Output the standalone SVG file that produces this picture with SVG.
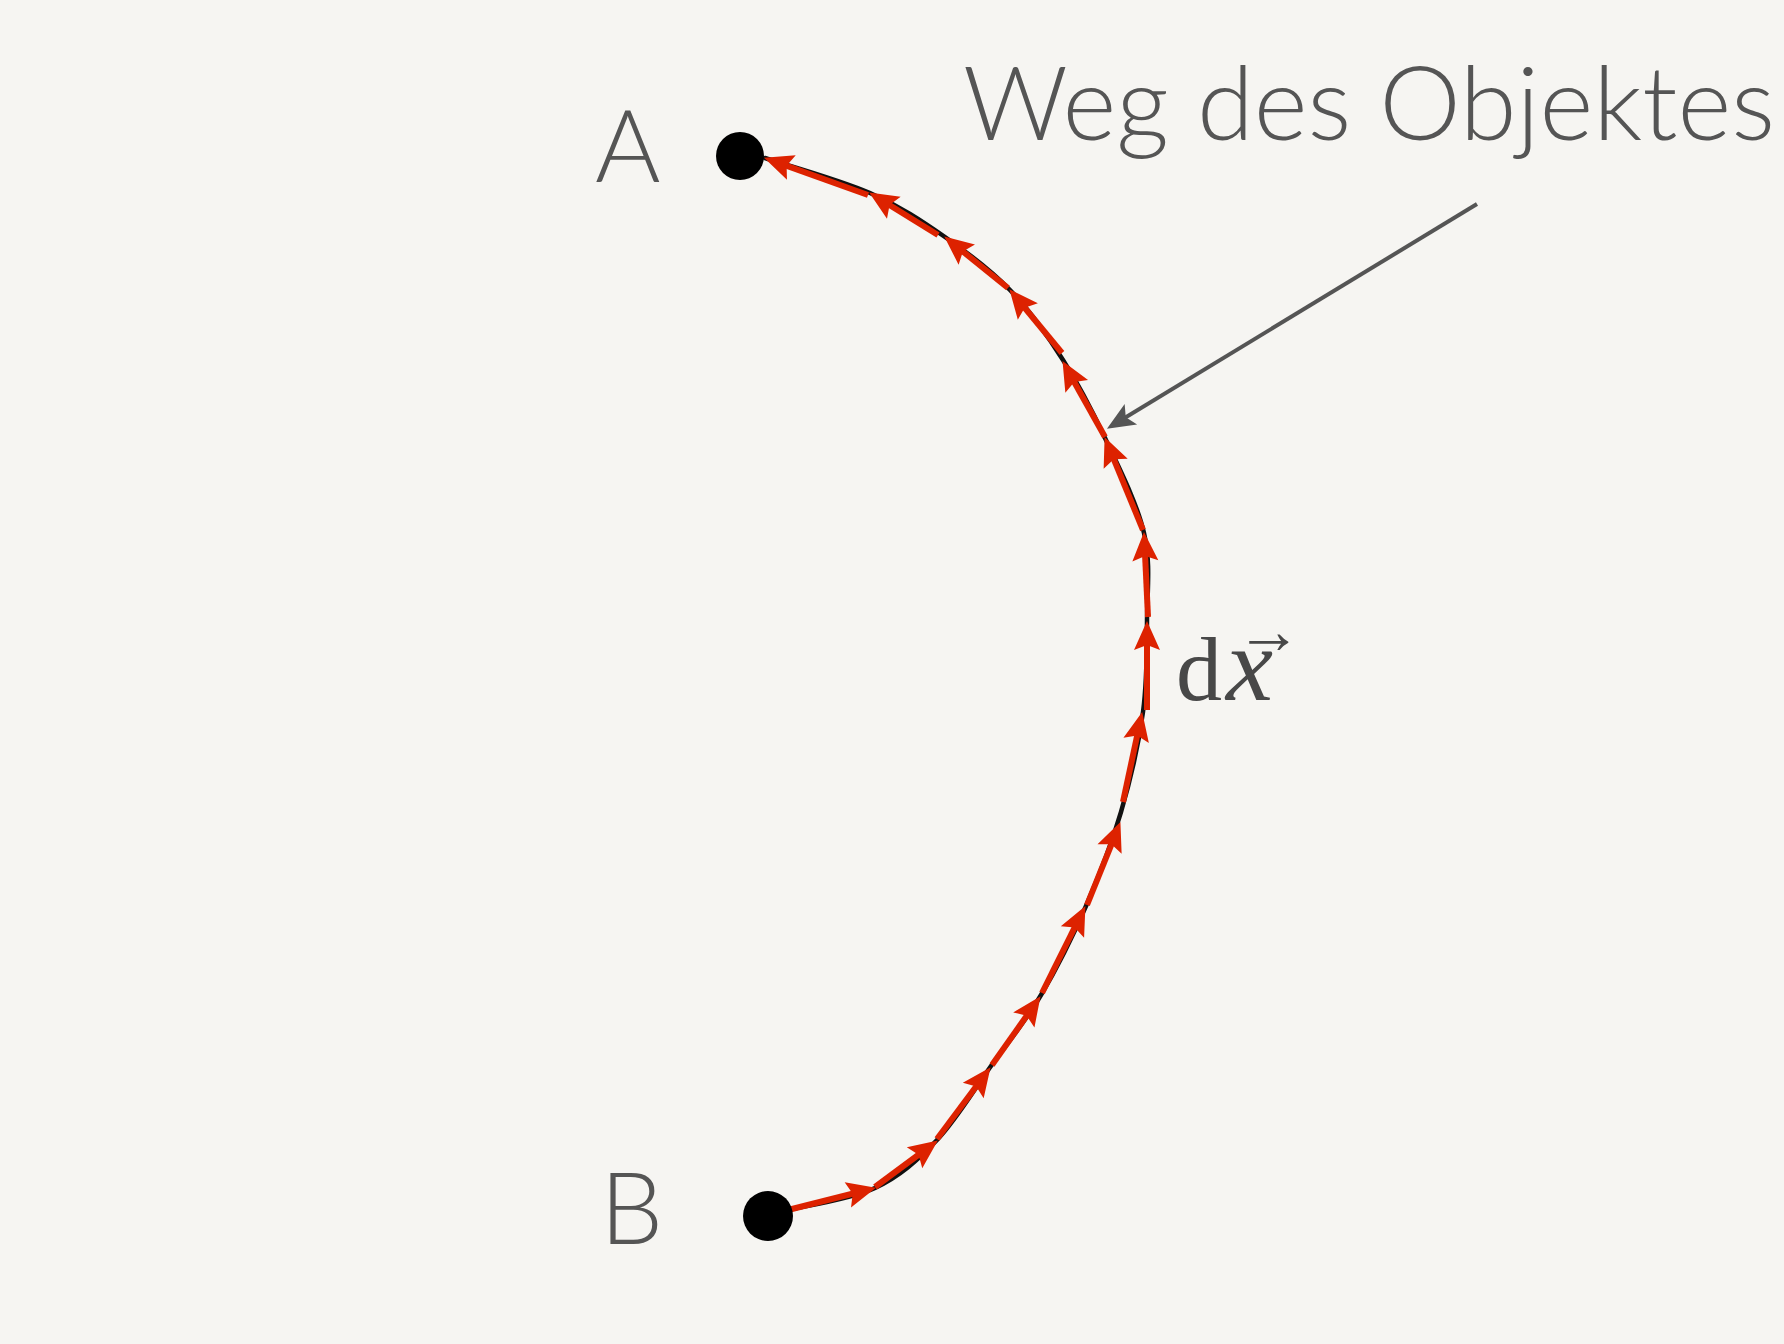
<svg xmlns="http://www.w3.org/2000/svg" width="1784" height="1344" viewBox="0 0 1784 1344">
<defs>
<style>
.lbl{font-family:"Lato","Open Sans","Liberation Sans",sans-serif;font-weight:300;fill:#555555}
.math{font-family:"Liberation Serif","DejaVu Serif",serif;fill:#484848}
.seg{stroke:#dd2200;stroke-width:6;fill:none;marker-end:url(#redhead)}
.path{stroke:#111111;stroke-width:4.5;fill:none;stroke-linecap:round}
.dot{fill:#000000}
</style>
<marker id="redhead" markerUnits="userSpaceOnUse" viewBox="-22 -16 36 32" markerWidth="36" markerHeight="32" refX="0" refY="0" orient="auto">
<path d="M11,0 L-18,-13 L-13,0 L-18,13 Z" fill="#dd2200"/>
</marker>
<marker id="grayhead" markerUnits="userSpaceOnUse" viewBox="-22 -16 36 32" markerWidth="36" markerHeight="32" refX="0" refY="0" orient="auto">
<path d="M10,0 L-18,-12 L-12,0 L-18,12 Z" fill="#555555"/>
</marker>
</defs>
<rect x="0" y="0" width="1784" height="1344" fill="#f6f5f2"/>

<g id="path-curve">
<path class="path" d="M765,158 C782.5,163.8 840,179.8 870,193 C900,206.2 921.7,220.8 945,237 C968.3,253.2 990.3,269.5 1010,290 C1029.7,310.5 1047.2,335.3 1063,360 C1078.8,384.7 1091.5,409.2 1105,438 C1118.5,466.8 1137,502.7 1144,533 C1151,563.3 1147.2,590.2 1147,620 C1146.8,649.8 1147.3,680 1143,712 C1138.7,744 1130.5,779.7 1121,812 C1111.5,844.3 1099.3,875.5 1086,906 C1072.7,936.5 1056.8,968.3 1041,995 C1025.2,1021.7 1008.3,1041.8 991,1066 C973.7,1090.2 956.3,1119.7 937,1140 C917.7,1160.3 899.8,1176.3 875,1188 C850.2,1199.7 802.5,1206.3 788,1210"/>
</g>

<g id="connectors">
<line class="seg" x1="788" y1="1210" x2="865.3" y2="1190.5"/>
<line class="seg" x1="875" y1="1187" x2="929" y2="1147"/>
<line class="seg" x1="937" y1="1139" x2="984" y2="1076"/>
<line class="seg" x1="992" y1="1065" x2="1034.2" y2="1005.2"/>
<line class="seg" x1="1042" y1="993" x2="1080.5" y2="915.9"/>
<line class="seg" x1="1087" y1="905" x2="1116.3" y2="832.3"/>
<line class="seg" x1="1123" y1="802" x2="1139.9" y2="722.8"/>
<line class="seg" x1="1147" y1="710" x2="1147" y2="632"/>
<line class="seg" x1="1148" y1="617" x2="1144.5" y2="543"/>
<line class="seg" x1="1143" y1="530" x2="1108.8" y2="447.2"/>
<line class="seg" x1="1105" y1="437" x2="1067.9" y2="370.7"/>
<line class="seg" x1="1062" y1="353" x2="1016.4" y2="297.7"/>
<line class="seg" x1="1008" y1="288" x2="952.8" y2="243.3"/>
<line class="seg" x1="938" y1="235" x2="878.5" y2="198.3"/>
<line class="seg" x1="868" y1="195" x2="774.4" y2="161.4"/>
<line x1="1477" y1="204" x2="1115.5" y2="423.5" stroke="#555555" stroke-width="4" marker-end="url(#grayhead)"/>
</g>

<g id="node-A">
<circle class="dot" cx="740" cy="156" r="24"/>
<text class="lbl" x="595" y="182" font-size="100">A</text>
</g>

<g id="node-B">
<circle class="dot" cx="768" cy="1216" r="25"/>
<text class="lbl" x="600" y="1244" font-size="100">B</text>
</g>

<g id="label-weg">
<text class="lbl" x="963" y="140" font-size="103" textLength="812" lengthAdjust="spacingAndGlyphs">Weg des Objektes</text>
</g>

<g id="label-dx">
<text class="math" x="1176" y="700" font-size="92">d<tspan font-style="italic" font-size="106" dx="4">x</tspan><tspan x="1236" y="653" font-size="66">→</tspan></text>
</g>
</svg>
